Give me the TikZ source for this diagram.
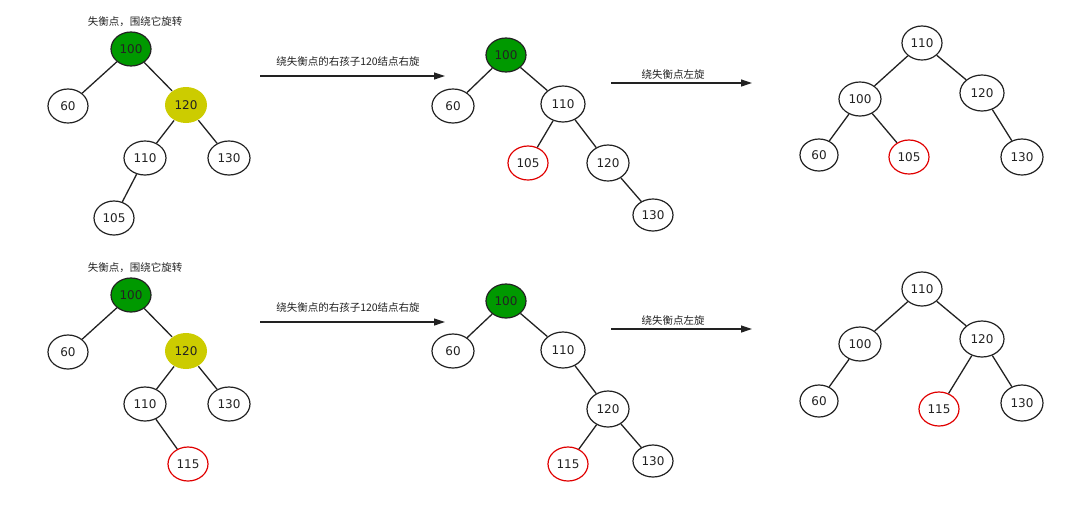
\documentclass[tikz,border=0pt]{standalone}
\usepackage{fontspec}
\setmainfont{DejaVu Sans}
\newfontfamily\cjk{Noto Sans CJK SC}
\usetikzlibrary{shapes.geometric,arrows.meta}

\definecolor{lossgreen}{HTML}{009900}
\definecolor{pivotyellow}{HTML}{CCCC00}
\definecolor{newred}{HTML}{E00000}
\definecolor{inkgray}{HTML}{222222}

\begin{document}
\begin{tikzpicture}[
  x=1pt, y=-1pt,
  tnode/.style={draw=inkgray, ellipse, line width=1.2pt, inner sep=0pt,
    minimum width=40pt, minimum height=34pt, font=\fontsize{12}{12}\selectfont, text=inkgray},
  lost/.style={tnode, fill=lossgreen},
  pivot/.style={tnode, draw=none, fill=pivotyellow},
  fresh/.style={tnode, draw=newred},
  edge/.style={draw=inkgray, line width=1.3pt},
  arr/.style={-{Triangle[length=11pt, width=7pt]}, draw=inkgray, line width=1.2pt},
  note/.style={font=\cjk\fontsize{10.5}{10.5}\selectfont, text=inkgray}
]
  \useasboundingbox (0,0) rectangle (1066,504);

  % ---- top row ----
  \node[note] (t1) at (135,22) {失衡点，围绕它旋转};
  \node[lost]  (a100) at (131,49)  {100};
  \node[tnode] (a60)  at (68,106)  {60};
  \node[pivot, minimum width=42pt, minimum height=36pt] (a120) at (186,105) {120};
  \node[tnode, minimum width=42pt] (a110) at (145,158) {110};
  \node[tnode, minimum width=42pt] (a130) at (229,158) {130};
  \node[tnode] (a105) at (114,218) {105};
  \draw[edge] (a100) -- (a60);
  \draw[edge] (a100) -- (a120);
  \draw[edge] (a120) -- (a110);
  \draw[edge] (a120) -- (a130);
  \draw[edge] (a110) -- (a105);

  \coordinate (s1) at (260,76);
  \coordinate (e1) at (445,76);
  \draw[arr] (s1) -- (e1);
  \node[note] (l1) at (348,61) {绕失衡点的右孩子120结点右旋};

  \node[lost]  (b100) at (506,55)  {100};
  \node[tnode, minimum width=42pt] (b60)  at (453,106) {60};
  \node[tnode, minimum width=44pt, minimum height=36pt] (b110) at (563,104) {110};
  \node[fresh] (b105) at (528,163) {105};
  \node[tnode, minimum width=42pt, minimum height=36pt] (b120) at (608,163) {120};
  \node[tnode, minimum height=32pt] (b130) at (653,215) {130};
  \draw[edge] (b100) -- (b60);
  \draw[edge] (b100) -- (b110);
  \draw[edge] (b110) -- (b105);
  \draw[edge] (b110) -- (b120);
  \draw[edge] (b120) -- (b130);

  \coordinate (s2) at (611,83);
  \coordinate (e2) at (752,83);
  \draw[arr] (s2) -- (e2);
  \node[note] (l2) at (673,75) {绕失衡点左旋};

  \node[tnode] (c110) at (922,43)  {110};
  \node[tnode, minimum width=42pt] (c100) at (860,99)  {100};
  \node[tnode, minimum width=44pt, minimum height=36pt] (c120) at (982,93) {120};
  \node[tnode, minimum width=38pt, minimum height=32pt] (c60) at (819,155) {60};
  \node[fresh] (c105) at (909,157) {105};
  \node[tnode, minimum width=42pt, minimum height=36pt] (c130) at (1022,157) {130};
  \draw[edge] (c110) -- (c100);
  \draw[edge] (c110) -- (c120);
  \draw[edge] (c100) -- (c60);
  \draw[edge] (c100) -- (c105);
  \draw[edge] (c120) -- (c130);

  % ---- bottom row ----
  \node[note] (t2) at (135,268) {失衡点，围绕它旋转};
  \node[lost]  (d100) at (131,295) {100};
  \node[tnode] (d60)  at (68,352)  {60};
  \node[pivot, minimum width=42pt, minimum height=36pt] (d120) at (186,351) {120};
  \node[tnode, minimum width=42pt] (d110) at (145,404) {110};
  \node[tnode, minimum width=42pt] (d130) at (229,404) {130};
  \node[fresh] (d115) at (188,464) {115};
  \draw[edge] (d100) -- (d60);
  \draw[edge] (d100) -- (d120);
  \draw[edge] (d120) -- (d110);
  \draw[edge] (d120) -- (d130);
  \draw[edge] (d110) -- (d115);

  \coordinate (s3) at (260,322);
  \coordinate (e3) at (445,322);
  \draw[arr] (s3) -- (e3);
  \node[note] (l3) at (348,307) {绕失衡点的右孩子120结点右旋};

  \node[lost]  (f100) at (506,301) {100};
  \node[tnode, minimum width=42pt] (f60)  at (453,351) {60};
  \node[tnode, minimum width=44pt, minimum height=36pt] (f110) at (563,350) {110};
  \node[tnode, minimum width=42pt, minimum height=36pt] (f120) at (608,409) {120};
  \node[fresh] (f115) at (568,464) {115};
  \node[tnode, minimum height=32pt] (f130) at (653,461) {130};
  \draw[edge] (f100) -- (f60);
  \draw[edge] (f100) -- (f110);
  \draw[edge] (f110) -- (f120);
  \draw[edge] (f120) -- (f115);
  \draw[edge] (f120) -- (f130);

  \coordinate (s4) at (611,329);
  \coordinate (e4) at (752,329);
  \draw[arr] (s4) -- (e4);
  \node[note] (l4) at (673,321) {绕失衡点左旋};

  \node[tnode] (g110) at (922,289) {110};
  \node[tnode, minimum width=42pt] (g100) at (860,344) {100};
  \node[tnode, minimum width=44pt, minimum height=36pt] (g120) at (982,339) {120};
  \node[tnode, minimum width=38pt, minimum height=32pt] (g60) at (819,401) {60};
  \node[fresh] (g115) at (939,409) {115};
  \node[tnode, minimum width=42pt, minimum height=36pt] (g130) at (1022,403) {130};
  \draw[edge] (g110) -- (g100);
  \draw[edge] (g110) -- (g120);
  \draw[edge] (g100) -- (g60);
  \draw[edge] (g120) -- (g115);
  \draw[edge] (g120) -- (g130);
\end{tikzpicture}
\end{document}
